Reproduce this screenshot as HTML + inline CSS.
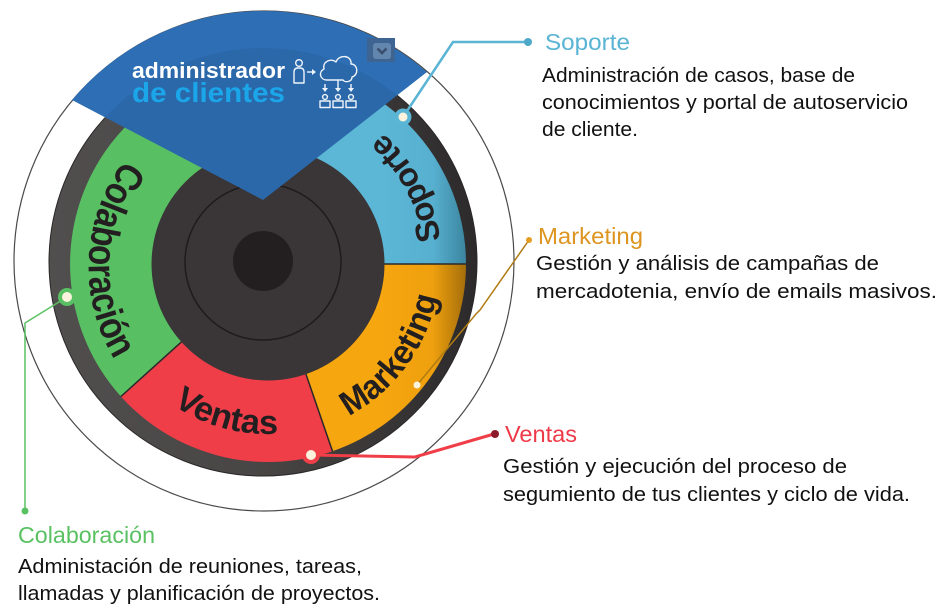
<!DOCTYPE html>
<html>
<head>
<meta charset="utf-8">
<style>
  html,body{margin:0;padding:0;background:#fff;}
  svg{display:block;}
  .lbl{font-family:"Liberation Sans",Arial,sans-serif;}
  .seg{font-family:"Liberation Sans",Arial,sans-serif;font-weight:bold;fill:#231f20;}
</style>
</head>
<body>
<svg width="947" height="614" viewBox="0 0 947 614" xmlns="http://www.w3.org/2000/svg">
  <defs>
    <linearGradient id="rim" gradientUnits="userSpaceOnUse" x1="49" y1="0" x2="477" y2="0">
      <stop offset="0" stop-color="#514e4e"/>
      <stop offset="0.5" stop-color="#484545"/>
      <stop offset="1" stop-color="#2d2a2b"/>
    </linearGradient>
    <linearGradient id="gBlue" gradientUnits="userSpaceOnUse" x1="380" y1="0" x2="468" y2="0">
      <stop offset="0" stop-color="#5cb6d6"/>
      <stop offset="0.6" stop-color="#57b0d0"/>
      <stop offset="1" stop-color="#3a839d"/>
    </linearGradient>
    <linearGradient id="gOrange" gradientUnits="userSpaceOnUse" x1="380" y1="0" x2="468" y2="0">
      <stop offset="0" stop-color="#f6a60f"/>
      <stop offset="0.6" stop-color="#eea00e"/>
      <stop offset="1" stop-color="#a06b0b"/>
    </linearGradient>
    <clipPath id="wedgeClip">
      <path d="M263,200 L72,100 A250,250 0 0,1 427,72 Z"/>
    </clipPath>
    <path id="pColab" d="M124.6,159.9 A178,178 0 0,0 115.4,361.1"/>
    <path id="pVentas" d="M172.9,404.9 A170,170 0 0,0 278.4,433.7"/>
    <path id="pMark" d="M348.8,415.9 A172,172 0 0,0 436.8,296.8"/>
    <path id="pSop" d="M440.3,239.8 A174,174 0 0,0 382.2,132.7"/>
  </defs>

  <rect width="947" height="614" fill="#fff"/>

  <!-- outer thin circle -->
  <circle cx="264" cy="261" r="250" fill="none" stroke="#4a4a4a" stroke-width="1.2"/>

  <!-- dark disk -->
  <circle cx="263" cy="262" r="214" fill="url(#rim)" stroke="#2a2728" stroke-width="1"/>

  <!-- colored segments -->
  <path d="M250.7,66.8 A198,198 0 0,1 466,264 L384,264 A116,116 0 0,0 257.9,148.4 Z" fill="url(#gBlue)"/>
  <path d="M466,264 A198,198 0 0,1 332.5,451.2 L305.8,373.7 A116,116 0 0,0 384,264 Z" fill="url(#gOrange)"/>
  <path d="M332.5,451.2 A198,198 0 0,1 120.9,396.5 L181.8,341.6 A116,116 0 0,0 305.8,373.7 Z" fill="#ef3e48"/>
  <path d="M120.9,396.5 A198,198 0 0,1 250.7,66.8 L257.9,148.4 A116,116 0 0,0 181.8,341.6 Z" fill="#58c063"/>

  <!-- boundaries -->
  <g stroke="#2b2829" stroke-width="1.5">
    <line x1="384" y1="264" x2="466" y2="264"/>
    <line x1="305.8" y1="373.7" x2="332.5" y2="451.2"/>
    <line x1="181.8" y1="341.6" x2="120.9" y2="396.5"/>
  </g>

  <!-- center -->
  <circle cx="268" cy="264" r="116.5" fill="#3a3536"/>
  <circle cx="263" cy="262" r="78" fill="none" stroke="#1f1b1c" stroke-width="1.5"/>
  <circle cx="263" cy="261" r="30" fill="#231f20"/>

  <!-- segment labels -->
  <text class="seg" font-size="39"><textPath href="#pColab" textLength="212" lengthAdjust="spacingAndGlyphs">Colaboración</textPath></text>
  <text class="seg" font-size="34"><textPath href="#pVentas" textLength="111" lengthAdjust="spacingAndGlyphs">Ventas</textPath></text>
  <text class="seg" font-size="34"><textPath href="#pMark" textLength="153" lengthAdjust="spacingAndGlyphs">Marketing</textPath></text>
  <text class="seg" font-size="33"><textPath href="#pSop" textLength="124" lengthAdjust="spacingAndGlyphs">Soporte</textPath></text>

  <!-- wedge -->
  <path d="M263,200 L72,100 A250,250 0 0,1 427,72 Z" fill="#2e6eb4"/>
  <circle cx="263" cy="262" r="214" fill="#000" opacity="0.05" clip-path="url(#wedgeClip)"/>

  <!-- header text -->
  <text class="lbl" x="132" y="78" font-size="22" font-weight="bold" fill="#ffffff" textLength="153" lengthAdjust="spacingAndGlyphs">administrador</text>
  <text class="lbl" x="132" y="102" font-size="28" font-weight="bold" fill="#1ba6ea" textLength="153" lengthAdjust="spacingAndGlyphs">de clientes</text>

  <!-- icons -->
  <g fill="none" stroke="#eef4fa" stroke-width="1.4" stroke-linejoin="round">
    <circle cx="299" cy="63" r="3.3"/>
    <path d="M294,83 L294,72 Q294,68 298,68 L300,68 Q304,68 304,72 L304,83 Z"/>
    <line x1="307" y1="72" x2="312" y2="72"/>
    <path d="M327,80 C320,80 318,72 324,69 C322,61 332,58 336,62 C339,54 352,55 351,64 C358,64 359,75 352,77 C352,82 345,83 343,80 Z"/>
    <line x1="325" y1="84" x2="325" y2="89"/>
    <line x1="338" y1="80" x2="338" y2="89"/>
    <line x1="351" y1="84" x2="351" y2="89"/>
    <circle cx="325" cy="97" r="2.4"/>
    <circle cx="338" cy="97" r="2.4"/>
    <circle cx="351" cy="97" r="2.4"/>
    <rect x="320" y="101" width="10" height="6.5"/>
    <rect x="333" y="101" width="10" height="6.5"/>
    <rect x="346" y="101" width="10" height="6.5"/>
  </g>
  <g fill="#eef4fa">
    <polygon points="312,69 316,72 312,75"/>
    <polygon points="322,88 328,88 325,92"/>
    <polygon points="335,88 341,88 338,92"/>
    <polygon points="348,88 354,88 351,92"/>
  </g>

  <!-- dropdown button -->
  <rect x="367" y="38" width="28" height="24" fill="#3e6591"/>
  <rect x="373" y="43" width="18" height="16" rx="3" fill="#6386ae"/>
  <polyline points="377.5,48.5 382,53 386.5,48.5" fill="none" stroke="#3b4f6c" stroke-width="2.6"/>

  <!-- connectors -->
  <polyline points="405,114 453,42 528,42" fill="none" stroke="#5ab4d4" stroke-width="2.5"/>
  <circle cx="528" cy="42" r="4" fill="#4ea9c9"/>

  <polyline points="417,385 476,314 480,310 529,240" fill="none" stroke="#b07a12" stroke-width="1.5"/>
  <circle cx="529" cy="240" r="3" fill="#e39d1f"/>

  <polyline points="311,455 415,457 494,434" fill="none" stroke="#ef3e48" stroke-width="3"/>
  <circle cx="495" cy="434" r="4" fill="#8e1b2b"/>

  <polyline points="67,297 25,323 25,511" fill="none" stroke="#5ac162" stroke-width="1.5"/>
  <circle cx="25" cy="511" r="3.5" fill="#5ac162"/>

  <!-- segment dots -->
  <circle cx="403" cy="117" r="8.5" fill="#5bb5d5"/>
  <circle cx="403" cy="117" r="4.5" fill="#fbf3dd"/>
  <circle cx="67" cy="297" r="9" fill="#58c063"/>
  <circle cx="67" cy="297" r="5" fill="#fbf3dd"/>
  <circle cx="311" cy="455" r="9" fill="#ef3e48"/>
  <circle cx="311" cy="455" r="5" fill="#fbf3dd"/>
  <circle cx="417" cy="385" r="3.5" fill="#fbf3dd"/>

  <!-- Soporte description -->
  <text class="lbl" x="545" y="50" font-size="23" fill="#5ab4d4" textLength="85" lengthAdjust="spacingAndGlyphs">Soporte</text>
  <text class="lbl" x="542" y="82" font-size="20" fill="#111" textLength="313" lengthAdjust="spacingAndGlyphs">Administración de casos, base de</text>
  <text class="lbl" x="542" y="109" font-size="20" fill="#111" textLength="366" lengthAdjust="spacingAndGlyphs">conocimientos y portal de autoservicio</text>
  <text class="lbl" x="542" y="136" font-size="20" fill="#111" textLength="96" lengthAdjust="spacingAndGlyphs">de cliente.</text>

  <!-- Marketing description -->
  <text class="lbl" x="538" y="244" font-size="23" fill="#dd9520" textLength="105" lengthAdjust="spacingAndGlyphs">Marketing</text>
  <text class="lbl" x="536" y="270" font-size="20" fill="#111" textLength="343" lengthAdjust="spacingAndGlyphs">Gestión y análisis de campañas de</text>
  <text class="lbl" x="536" y="298" font-size="20" fill="#111" textLength="401" lengthAdjust="spacingAndGlyphs">mercadotenia, envío de emails masivos.</text>

  <!-- Ventas description -->
  <text class="lbl" x="505" y="442" font-size="23" fill="#ee3a48" textLength="72" lengthAdjust="spacingAndGlyphs">Ventas</text>
  <text class="lbl" x="503" y="473" font-size="20" fill="#111" textLength="344" lengthAdjust="spacingAndGlyphs">Gestión y ejecución del proceso de</text>
  <text class="lbl" x="503" y="501" font-size="20" fill="#111" textLength="407" lengthAdjust="spacingAndGlyphs">segumiento de tus clientes y ciclo de vida.</text>

  <!-- Colaboración description -->
  <text class="lbl" x="18" y="543" font-size="23" fill="#5ac162" textLength="137" lengthAdjust="spacingAndGlyphs">Colaboración</text>
  <text class="lbl" x="18" y="573" font-size="20" fill="#111" textLength="344" lengthAdjust="spacingAndGlyphs">Administación de reuniones, tareas,</text>
  <text class="lbl" x="18" y="600" font-size="20" fill="#111" textLength="362" lengthAdjust="spacingAndGlyphs">llamadas y planificación de proyectos.</text>
</svg>
</body>
</html>
